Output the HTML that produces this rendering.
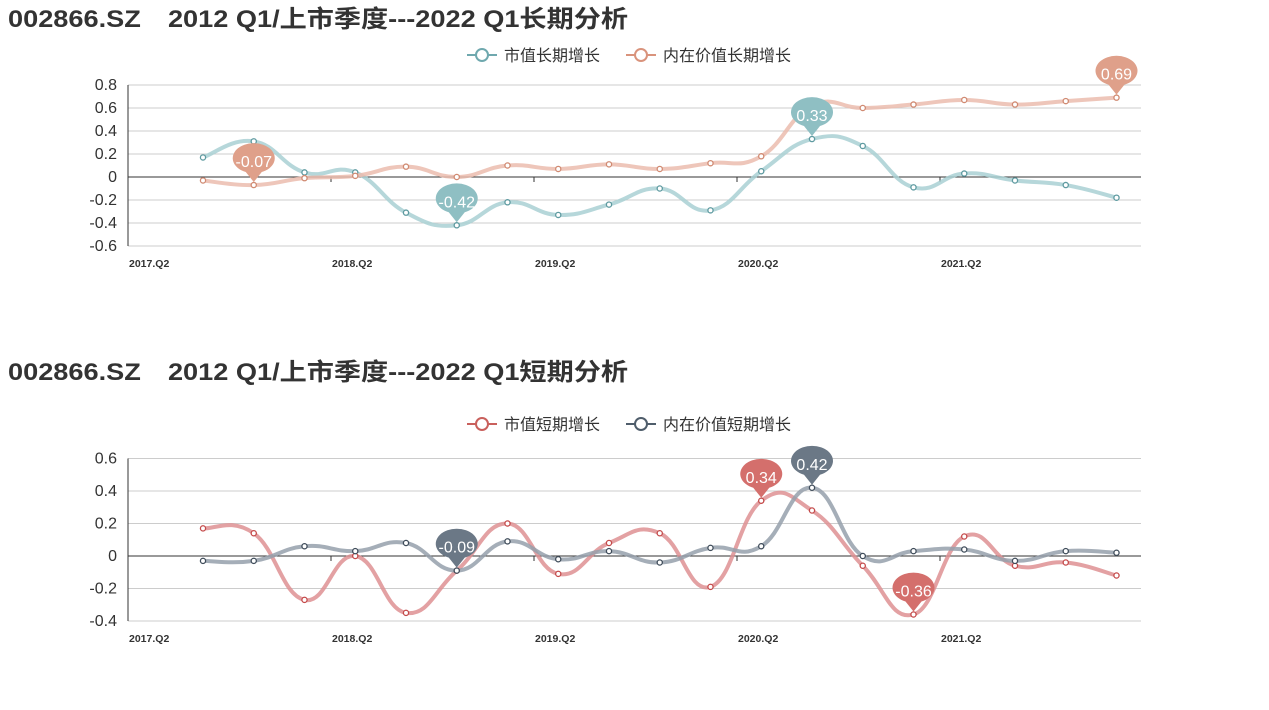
<!DOCTYPE html>
<html><head><meta charset="utf-8"><style>
body{margin:0;background:#fff;width:1269px;height:705px;overflow:hidden;font-family:"Liberation Sans","Noto Sans CJK SC",sans-serif}
svg text{font-family:"Liberation Sans","Noto Sans CJK SC",sans-serif}
</style></head><body>
<svg id="s" width="1269" height="705" xmlns="http://www.w3.org/2000/svg"></svg>
<script>
const S=document.getElementById('s');let h='';
const X0=128,DX=50.75;
function px(i){return 203+i*DX}
function smooth(pts){let d='M'+pts[0][0]+','+pts[0][1];for(let i=0;i<pts.length-1;i++){const p0=pts[Math.max(0,i-1)],p1=pts[i],p2=pts[i+1],p3=pts[Math.min(pts.length-1,i+2)];const t=0.22;const c1=[p1[0]+(p2[0]-p0[0])*t,p1[1]+(p2[1]-p0[1])*t],c2=[p2[0]-(p3[0]-p1[0])*t,p2[1]-(p3[1]-p1[1])*t];d+=` C${c1[0]},${c1[1]} ${c2[0]},${c2[1]} ${p2[0]},${p2[1]}`}return d}
function pin(x,y,col,txt){h+=`<path d="M${x},${y-3} L${x-8},${y-13} A21,15 0 1 1 ${x+8},${y-13} Z" fill="${col}"/><text x="${x}" y="${y-18}" font-size="16" fill="#fff" text-anchor="middle">${txt}</text>`}
function chart(cfg){
 const {top,title,ticks,y0,per,series,legY,legs}=cfg;
 h+=`<text x="8" y="${top}" font-size="24" font-weight="bold" fill="#333" textLength="620" lengthAdjust="spacingAndGlyphs">${title}</text>`;
 ticks.forEach(v=>{const y=y0-v/0.2*per;h+=`<line x1="128" x2="1141" y1="${y}" y2="${y}" stroke="${v==0?'#333':'#ccc'}" stroke-width="1"/><text x="117" y="${y+5}" font-size="16" fill="#333" text-anchor="end">${Math.round(v*10)/10}</text>`});
 const yb=y0-ticks[ticks.length-1]/0.2*per, yt=y0-ticks[0]/0.2*per;
 h+=`<line x1="128" x2="128" y1="${yt}" y2="${yb}" stroke="#333"/>`;
 ['2017.Q2','2018.Q2','2019.Q2','2020.Q2','2021.Q2'].forEach((l,i)=>{const x=X0+i*4*DX;h+=`<line x1="${x}" x2="${x}" y1="${y0}" y2="${y0+5}" stroke="#333"/><text x="${x+1}" y="${yb+21}" font-size="10.5" font-weight="bold" fill="#333">${l}</text>`});
 legs.forEach(([x,c,t])=>{h+=`<line x1="${x}" x2="${x+30}" y1="${legY}" y2="${legY}" stroke="${c}" stroke-width="2"/><circle cx="${x+15}" cy="${legY}" r="6" fill="#fff" stroke="${c}" stroke-width="2"/><text x="${x+37}" y="${legY+6}" font-size="16" fill="#333">${t}</text>`});
 series.forEach(s=>{const pts=s.v.map((v,i)=>[px(i),y0-v/0.2*per]);h+=`<path d="${smooth(pts)}" fill="none" stroke="${s.line}" stroke-width="4" opacity="0.85"/>`;pts.forEach(p=>h+=`<circle cx="${p[0]}" cy="${p[1]}" r="2.6" fill="#fff" stroke="${s.m}" stroke-width="1.3"/>`)});
 series.forEach(s=>{s.pins.forEach(i=>pin(px(i),y0-s.v[i]/0.2*per,s.pc,s.v[i].toFixed(2)))});
}
chart({top:27,title:'002866.SZ　2012 Q1/上市季度---2022 Q1长期分析',ticks:[0.8,0.6,0.4,0.2,0,-0.2,-0.4,-0.6],y0:177,per:23,legY:55,
 legs:[[467,'#6fa8ae','市值长期增长'],[626,'#d9937c','内在价值长期增长']],
 series:[
 {v:[0.17,0.31,0.04,0.04,-0.31,-0.42,-0.22,-0.33,-0.24,-0.10,-0.29,0.05,0.33,0.27,-0.09,0.03,-0.03,-0.07,-0.18],line:'#a9d0d3',m:'#5e9aa0',pc:'#8fbfc3',pins:[5,12]},
 {v:[-0.03,-0.07,-0.01,0.01,0.09,0.00,0.10,0.07,0.11,0.07,0.12,0.18,0.62,0.60,0.63,0.67,0.63,0.66,0.69],line:'#ebbcae',m:'#d08a72',pc:'#dfa08a',pins:[1,18]}]});
chart({top:380,title:'002866.SZ　2012 Q1/上市季度---2022 Q1短期分析',ticks:[0.6,0.4,0.2,0,-0.2,-0.4],y0:556,per:32.5,legY:424,
 legs:[[467,'#c9605c','市值短期增长'],[626,'#4f5d6b','内在价值短期增长']],
 series:[
 {v:[0.17,0.14,-0.27,0.00,-0.35,-0.09,0.20,-0.11,0.08,0.14,-0.19,0.34,0.28,-0.06,-0.36,0.12,-0.06,-0.04,-0.12],line:'#de9193',m:'#c44a4a',pc:'#d46f6c',pins:[11,14]},
 {v:[-0.03,-0.03,0.06,0.03,0.08,-0.09,0.09,-0.02,0.03,-0.04,0.05,0.06,0.42,0.00,0.03,0.04,-0.03,0.03,0.02],line:'#95a0ab',m:'#3f4c5a',pc:'#6b7886',pins:[5,12]}]});
S.innerHTML=h;
</script>
</body></html>
